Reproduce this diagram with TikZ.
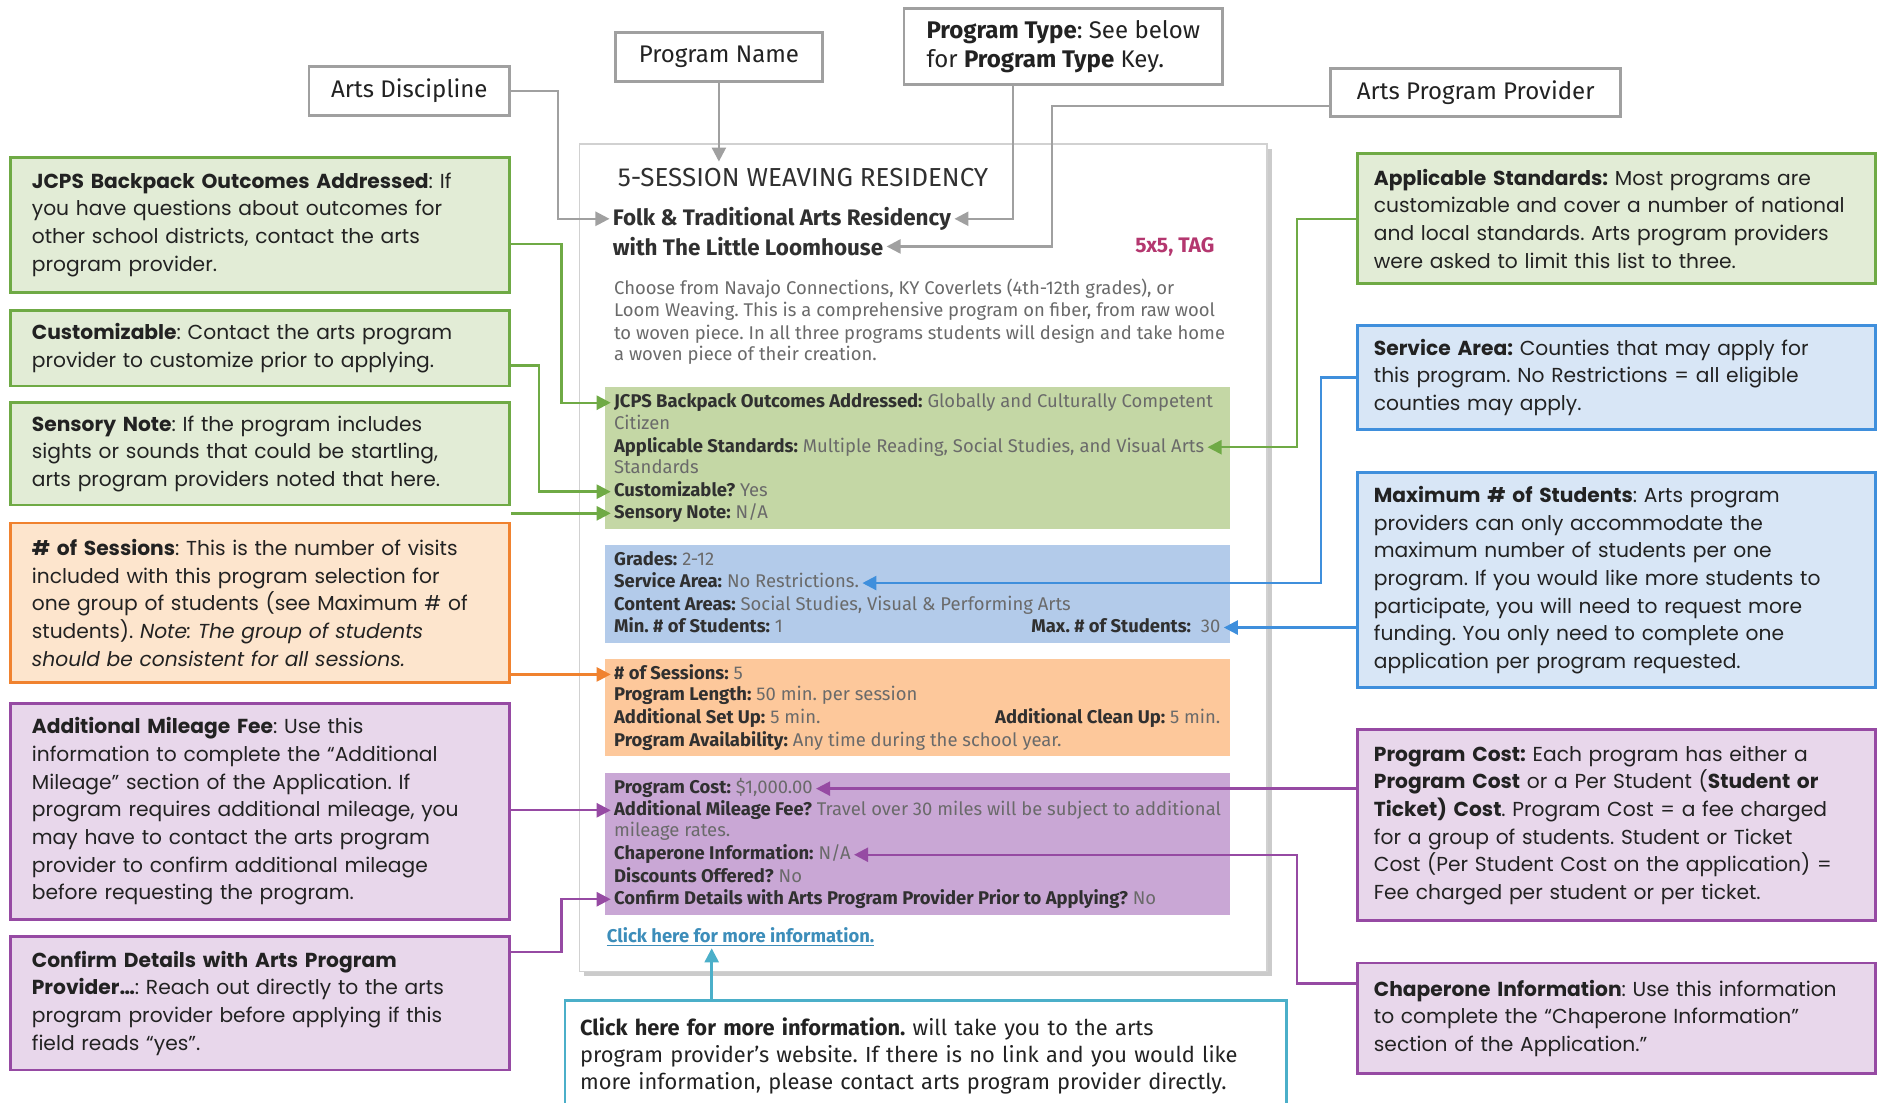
\documentclass[tikz,border=0pt]{standalone}
\usepackage{fontspec}
\setmainfont{Poppins}
\newfontfamily\narrowfont{Fira Sans}
\usetikzlibrary{arrows.meta,shadows}
\frenchspacing
\definecolor{linegray}{HTML}{A0A0A0}
\definecolor{ink}{HTML}{222222}
\definecolor{grn}{HTML}{6FAA45}
\definecolor{grnfill}{HTML}{E2ECD6}
\definecolor{grnband}{HTML}{C4D7A5}
\definecolor{blu}{HTML}{3F8FDC}
\definecolor{blufill}{HTML}{D8E6F6}
\definecolor{bluband}{HTML}{B3CBEA}
\definecolor{org}{HTML}{F0822F}
\definecolor{orgfill}{HTML}{FDE5CD}
\definecolor{orgband}{HTML}{FDC89B}
\definecolor{pur}{HTML}{964AA3}
\definecolor{purfill}{HTML}{E8D7EB}
\definecolor{purband}{HTML}{C9A7D5}
\definecolor{tealline}{HTML}{4BAFC9}
\definecolor{linkblue}{HTML}{3C8DBA}
\definecolor{tagpink}{HTML}{B4376F}
\definecolor{cardlbl}{HTML}{303030}
\definecolor{cardval}{HTML}{6A6A6A}
\newcommand\lb[1]{{\bfseries\color{cardlbl}#1}}
\begin{document}
\begin{tikzpicture}[x=0.6pt,y=-0.6pt,
  box/.style n args={4}{at={({(#1+#3)/2},{(#2+#4)/2})},
    minimum width={(#3-#1)*0.6pt}, minimum height={(#4-#2)*0.6pt}},
  note/.style 2 args={draw=#1, fill=#2, line width=1.4pt, inner xsep=10.2pt, inner ysep=0pt,
    align=left, text=ink, font=\fontsize{10.1}{13.8}\selectfont},
  lnote/.style={text width=228pt},
  rnote/.style={inner xsep=8.2pt, text width=242pt},
  glabel/.style={draw=linegray, fill=white, line width=1.4pt, inner sep=0pt, align=left,
    text=ink, font=\narrowfont\fontsize{12}{14.4}\selectfont},
  band/.style={fill=#1, inner sep=0pt},
  field/.style={anchor=west, inner sep=1.5pt, text=cardval,
    font=\narrowfont\fontsize{9.2}{11}\selectfont, text height=6.8pt, text depth=1.9pt},
  rfield/.style={field, anchor=east},
  conn/.style={line width=1.2pt, -{Triangle[length=7pt,width=7pt]}},
]
\useasboundingbox (0,0) rectangle (1568,917);
\fill[white] (0,0) rectangle (1568,917);

% the program card
\node[fill=white, draw=black!18, line width=0.8pt, inner sep=0pt,
  drop shadow={shadow xshift=2.5pt, shadow yshift=-2.5pt, fill=black!40},
  box={482}{120}{1054}{808}] (card) {};
\node[band=grnband, box={503}{322}{1023}{440}] (band-g) {};
\node[band=bluband, box={503}{453}{1023}{535}] (band-b) {};
\node[band=orgband, box={503}{548}{1023}{629}] (band-o) {};
\node[band=purband, box={503}{643}{1023}{761}] (band-p) {};

\node[anchor=west, text=cardlbl, font=\narrowfont\fontsize{13}{15}\selectfont] (title) at (508,148) {5-SESSION WEAVING RESIDENCY};
\node[anchor=west, inner sep=1.5pt, text=cardlbl, font=\narrowfont\bfseries\fontsize{11.2}{13}\selectfont] (folk) at (507,182) {Folk \& Traditional Arts Residency};
\node[anchor=west, inner sep=1.5pt, text=cardlbl, font=\narrowfont\bfseries\fontsize{11.2}{13}\selectfont] (loom) at (507,205) {with The Little Loomhouse};
\node[anchor=east, text=tagpink, font=\narrowfont\bfseries\fontsize{10.5}{13}\selectfont] (tag) at (1016,205) {5x5, TAG};
\foreach \n/\y/\txt in {
  d1/241/{Choose from Navajo Connections, KY Coverlets (4th-12th grades), or},
  d2/259/{Loom Weaving. This is a comprehensive program on fiber, from raw wool},
  d3/278/{to woven piece. In all three programs students will design and take home},
  d4/296/{a woven piece of their creation.}
}{
  \node[field] (\n) at (508,\y) {\txt};
}
\foreach \n/\y/\txt in {
  jcps/335/{\lb{JCPS Backpack Outcomes Addressed:} Globally and Culturally Competent},
  cit/353/{Citizen},
  std/372/{\lb{Applicable Standards:} Multiple Reading, Social Studies, and Visual Arts},
  stds/390/{Standards},
  cust/409/{\lb{Customizable?} Yes},
  sens/427/{\lb{Sensory Note:} N/A},
  grad/466/{\lb{Grades:} 2-12},
  serv/485/{\lb{Service Area:} No Restrictions.},
  cont/504/{\lb{Content Areas:} Social Studies, Visual \& Performing Arts},
  min/522/{\lb{Min. \# of Students:} 1},
  sess/561/{\lb{\# of Sessions:} 5},
  len/579/{\lb{Program Length:} 50 min. per session},
  setup/598/{\lb{Additional Set Up:} 5 min.},
  avail/617/{\lb{Program Availability:} Any time during the school year.},
  cost/656/{\lb{Program Cost:} \$1,000.00},
  mile/674/{\lb{Additional Mileage Fee?} Travel over 30 miles will be subject to additional},
  mrate/692/{mileage rates.},
  chap/711/{\lb{Chaperone Information:} N/A},
  disc/730/{\lb{Discounts Offered?} No},
  conf/748/{\lb{Confirm Details with Arts Program Provider Prior to Applying?} No}
}{
  \node[field] (f-\n) at (508,\y) {\txt};
}
\node[rfield] (f-max) at (1018,522) {\lb{Max. \# of Students:}\ \ 30};
\node[rfield] (f-clean) at (1018,598) {\lb{Additional Clean Up:} 5 min.};
\node[field, text=linkblue, font=\narrowfont\bfseries\fontsize{9.2}{11}\selectfont] (link) at (502,780) {\underline{Click here for more information.}};

% labels above the card
\node[glabel, box={257}{55}{424}{96}] (discipline) {Arts Discipline};
\node[glabel, box={512}{27}{684}{68}] (pname) {Program Name};
\node[glabel, box={752}{7}{1017}{70}] (ptype) {\textbf{Program Type}: See below\\for \textbf{Program Type} Key.};
\node[glabel, box={1107}{57}{1348}{97}] (prov) {Arts Program Provider};

% notes on the left
\node[note={grn}{grnfill}, lnote, box={9}{131}{424}{243}] (n-jcps) {\textbf{JCPS Backpack Outcomes Addressed}: If\\you have questions about outcomes for\\other school districts, contact the arts\\program provider.};
\node[note={grn}{grnfill}, lnote, box={9}{258}{424}{321}] (n-cust) {\textbf{Customizable}: Contact the arts program\\provider to customize prior to applying.};
\node[note={grn}{grnfill}, lnote, box={9}{335}{424}{420}] (n-sens) {\textbf{Sensory Note}: If the program includes\\sights or sounds that could be startling,\\arts program providers noted that here.};
\node[note={org}{orgfill}, lnote, box={9}{435}{424}{568}] (n-sess) {\textbf{\# of Sessions}: This is the number of visits\\included with this program selection for\\one group of students (see Maximum \# of\\students). \textit{Note: The group of students}\\\textit{should be consistent for all sessions.}};
\node[note={pur}{purfill}, lnote, box={9}{585}{424}{765}] (n-mile) {\textbf{Additional Mileage Fee}: Use this\\information to complete the “Additional\\Mileage” section of the Application. If\\program requires additional mileage, you\\may have to contact the arts program\\provider to confirm additional mileage\\before requesting the program.};
\node[note={pur}{purfill}, lnote, box={9}{779}{424}{890}] (n-conf) {\textbf{Confirm Details with Arts Program}\\\textbf{Provider\dots}: Reach out directly to the arts\\program provider before applying if this\\field reads “yes”.};

% notes on the right
\node[note={grn}{grnfill}, rnote, box={1129}{128}{1560}{236}] (n-std) {\textbf{Applicable Standards:} Most programs are\\customizable and cover a number of national\\and local standards. Arts program providers\\were asked to limit this list to three.};
\node[note={blu}{blufill}, rnote, box={1129}{271}{1560}{357}] (n-serv) {\textbf{Service Area:} Counties that may apply for\\this program. No Restrictions = all eligible\\counties may apply.};
\node[note={blu}{blufill}, rnote, box={1129}{393}{1560}{572}] (n-max) {\textbf{Maximum \# of Students}: Arts program\\providers can only accommodate the\\maximum number of students per one\\program. If you would like more students to\\participate, you will need to request more\\funding. You only need to complete one\\application per program requested.};
\node[note={pur}{purfill}, rnote, box={1129}{607}{1560}{766}] (n-cost) {\textbf{Program Cost:} Each program has either a\\\textbf{Program Cost} or a Per Student (\textbf{Student or}\\\textbf{Ticket) Cost}. Program Cost = a fee charged\\for a group of students. Student or Ticket\\Cost (Per Student Cost on the application) =\\Fee charged per student or per ticket.};
\node[note={pur}{purfill}, rnote, box={1129}{801}{1560}{893}] (n-chap) {\textbf{Chaperone Information}: Use this information\\to complete the “Chaperone Information”\\section of the Application.”};

% note below the card
\node[note={tealline}{white}, inner xsep=7.5pt, text width=345pt, font=\narrowfont\fontsize{10.9}{13.5}\selectfont, box={470}{832}{1070}{925}] (n-click) {\textbf{Click here for more information.} will take you to the arts\\program provider’s website. If there is no link and you would like\\more information, please contact arts program provider directly.};

% connectors
\draw[conn, linegray] (discipline.east) -- ++(39,0) |- (folk.west);
\draw[conn, linegray] (pname.south) -- (pname.south |- title.north);
\draw[conn, linegray] ([xshift=-25pt]ptype.south) |- (folk.east);
\draw[conn, linegray] ([yshift=-6.6pt]prov.west) -- ++(-231,0) |- (loom.east);

\draw[conn, grn] ([yshift=-9.6pt]n-jcps.east) -- ++(42,0) |- (f-jcps.west);
\draw[conn, grn] ([yshift=-8.7pt]n-cust.east) -- ++(23,0) |- (f-cust.west);
\draw[conn, grn] (n-sens.east |- f-sens.west) -- (f-sens.west);
\draw[conn, org] (n-sess.east |- f-sess.west) -- (f-sess.west);
\draw[conn, pur] (n-mile.east |- f-mile.west) -- (f-mile.west);
\draw[conn, pur] ([yshift=-8.4pt]n-conf.north east) -- ++(42,0) |- (f-conf.west);

\draw[conn, grn] (n-std.west) -- ++(-49,0) |- (f-std.east);
\draw[conn, blu] (n-serv.west) -- ++(-29,0) |- (f-serv.east);
\draw[conn, blu] (n-max.west |- f-max.east) -- (f-max.east);
\draw[conn, pur] (n-cost.west |- f-cost.east) -- (f-cost.east);
\draw[conn, pur] ([yshift=17.4pt]n-chap.west) -- ++(-49,0) |- (f-chap.east);

\draw[conn, tealline] ([xshift=-106.8pt]n-click.north) -- ++(0,-42);
\end{tikzpicture}
\end{document}
